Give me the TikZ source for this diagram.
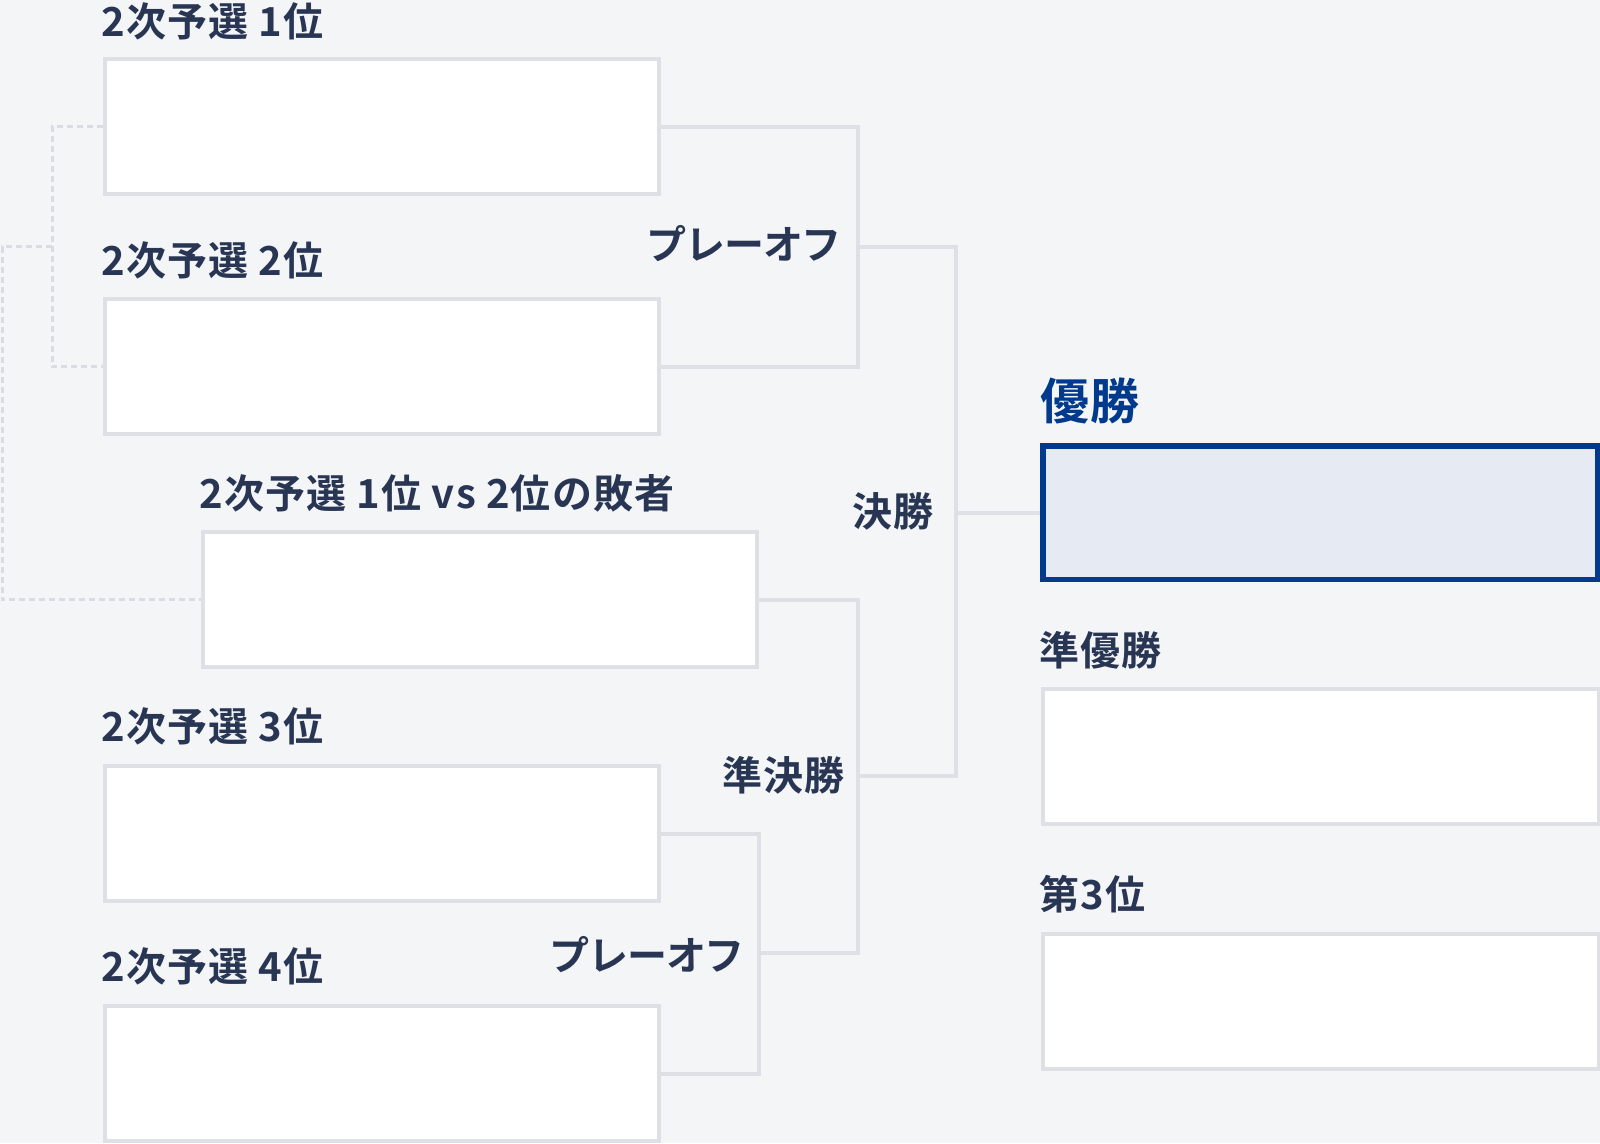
\documentclass[tikz,border=0pt]{standalone}
\usepackage{fontspec}
\newfontfamily\jp{Noto Sans CJK JP}[BoldFont={Noto Sans CJK JP Bold}, LetterSpace=3]
\newfontfamily\jpk{Noto Sans CJK JP}[BoldFont={Noto Sans CJK JP Bold}, LetterSpace=-3]
\definecolor{bg}{HTML}{F4F5F7}
\definecolor{boxline}{HTML}{DEE0E5}
\definecolor{dashc}{HTML}{DADCE1}
\definecolor{ink}{HTML}{283654}
\definecolor{champ}{HTML}{003A8C}
\definecolor{champfill}{HTML}{E6EBF3}
\begin{document}
\begin{tikzpicture}[x=1pt,y=-1pt,
  box/.style={draw=boxline, fill=white, line width=4pt, minimum width=554pt, minimum height=135pt, inner sep=0pt},
  rbox/.style={box, minimum width=556pt},
  winbox/.style={draw=champ, fill=champfill, line width=5.5pt, minimum width=554.5pt, minimum height=133.5pt, inner sep=0pt},
  lbl/.style={font=\jp\bfseries\fontsize{40}{48}\selectfont, text=ink, inner sep=0pt},
  klbl/.style={font=\jpk\bfseries\fontsize{40}{48}\selectfont, text=ink, inner sep=0pt},
  winlbl/.style={font=\jp\bfseries\fontsize{49}{58}\selectfont, text=champ, inner sep=0pt},
  conn/.style={draw=boxline, line width=4pt},
  dashconn/.style={draw=dashc, line width=3pt, dash pattern=on 6pt off 4pt}]
\fill[bg] (0,0) rectangle (1600,1143);
\useasboundingbox (0,0) rectangle (1600,1143);

% boxes
\node[box] (A) at (382,126.5) {};
\node[box] (B) at (382,366.5) {};
\node[box] (C) at (480,599.5) {};
\node[box] (D) at (382,833.5) {};
\node[box] (E) at (382,1073.5) {};
\node[winbox] (W) at (1320,512.5) {};
\node[rbox] (R) at (1321,756.5) {};
\node[rbox] (T) at (1321,1001.5) {};

% labels
\node[lbl, anchor=west] (lA) at (101,21.5) {2次予選 1位};
\node[lbl, anchor=west] (lB) at (101,260) {2次予選 2位};
\node[lbl, anchor=west] (lC) at (199,493) {2次予選 1位 vs 2位の敗者};
\node[lbl, anchor=west] (lD) at (101,726) {2次予選 3位};
\node[lbl, anchor=west] (lE) at (101,966) {2次予選 4位};
\node[winlbl, anchor=west] (lW) at (1040,400.5) {優勝};
\node[lbl, anchor=west] (lR) at (1039,650) {準優勝};
\node[lbl, anchor=west] (lT) at (1039,894) {第3位};
\node[klbl, anchor=east] (lP1) at (842,243.5) {プレーオフ};
\node[lbl, anchor=east] (lF) at (934,511.5) {決勝};
\node[lbl, anchor=east] (lS) at (845,775) {準決勝};
\node[klbl, anchor=east] (lP2) at (745,955) {プレーオフ};

% connector junctions
\coordinate (p1) at (858,246.5);
\coordinate (fin) at (956,512.5);
\coordinate (s1) at (858,775.5);
\coordinate (p2) at (759,953);
\coordinate (d1) at (52,246.5);
\coordinate (d2) at (2,422);

\draw[conn] (A.east) -| (p1) |- (B.east);
\draw[conn] (p1) -| (fin) |- (s1);
\draw[conn] (fin) -- (fin -| W.west);
\draw[conn] (C.east) -| (s1) |- (p2);
\draw[conn] (D.east) -| (p2) |- (E.east);

\draw[dashconn] (A.west) -| (d1) |- (B.west);
\draw[dashconn] (d1) -| (d2) |- (C.west);
\end{tikzpicture}
\end{document}
